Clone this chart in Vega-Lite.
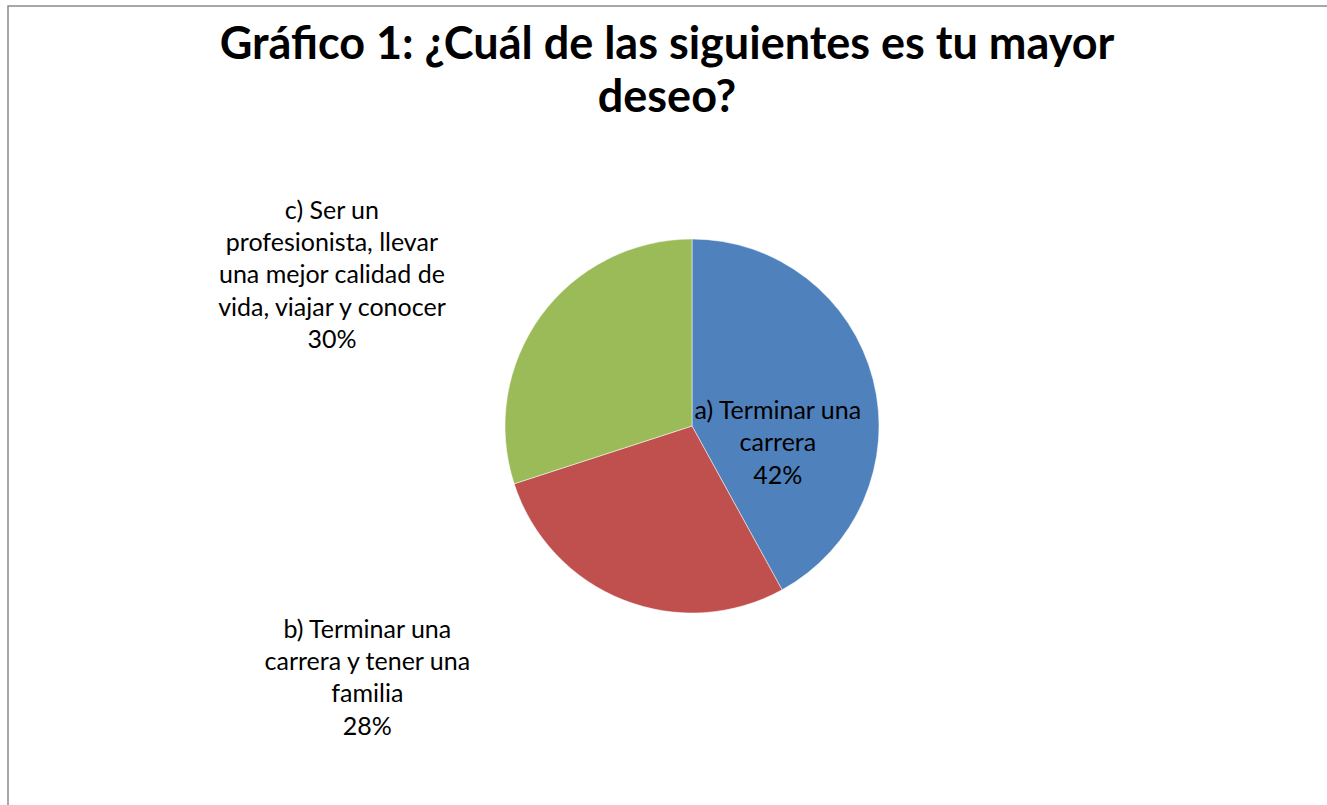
{
  "$schema": "https://vega.github.io/schema/vega-lite/v6.json",
  "autosize": {"type": "none"},
  "padding": {"left": 8, "top": 6, "right": 0, "bottom": 0},
  "width": 1368,
  "height": 840,
  "background": "#ffffff",
  "view": {"stroke": "#8a8a8a", "strokeWidth": 1.5, "fill": "#ffffff"},
  "config": {
    "view": {"stroke": "#8a8a8a", "strokeWidth": 1.5, "fill": "#ffffff"},
    "font": "Lato"
  },
  "title": {
    "text": ["Gráfico 1: ¿Cuál de las siguientes es tu mayor", "deseo?"],
    "font": "Lato",
    "fontSize": 45,
    "fontWeight": "bold",
    "color": "#000000",
    "lineHeight": 53,
    "anchor": "middle",
    "baseline": "top",
    "offset": -115,
    "dx": -25
  },
  "data": {
    "values": [
      {"opcion": "a) Terminar una carrera", "porcentaje": 42, "etiqueta": "a) Terminar una\ncarrera\n42%"},
      {"opcion": "b) Terminar una carrera y tener una familia", "porcentaje": 28, "etiqueta": "b) Terminar una\ncarrera y tener una\nfamilia\n28%"},
      {"opcion": "c) Ser un profesionista, llevar una mejor calidad de vida, viajar y conocer", "porcentaje": 30, "etiqueta": "c) Ser un\nprofesionista, llevar\nuna mejor calidad de\nvida, viajar y conocer\n30%"}
    ]
  },
  "encoding": {
    "theta": {"field": "porcentaje", "type": "quantitative", "stack": true},
    "color": {
      "field": "opcion",
      "type": "nominal",
      "scale": {"range": ["#4f81bd", "#c0504d", "#9bbb59"]},
      "legend": null
    }
  },
  "layer": [
    {"mark": {"type": "arc", "outerRadius": 187, "stroke": "#ffffff", "strokeWidth": 0.5}},
    {
      "mark": {"type": "text", "radius": 100, "dx": -11, "dy": 10, "fontSize": 25, "lineBreak": "\n", "lineHeight": 32.3, "align": "center", "baseline": "middle"},
      "encoding": {
        "text": {"condition": {"test": "datum.porcentaje === 42", "field": "etiqueta"}, "value": ""},
        "color": {"value": "#000000"}
      }
    },
    {
      "mark": {"type": "text", "radius": 230, "dx": -240, "dy": -10, "fontSize": 25, "lineBreak": "\n", "lineHeight": 32.3, "align": "center", "baseline": "middle"},
      "encoding": {
        "text": {"condition": {"test": "datum.porcentaje === 28", "field": "etiqueta"}, "value": ""},
        "color": {"value": "#000000"}
      }
    },
    {
      "mark": {"type": "text", "radius": 230, "dx": -174, "dy": -80, "fontSize": 25, "lineBreak": "\n", "lineHeight": 32.3, "align": "center", "baseline": "middle"},
      "encoding": {
        "text": {"condition": {"test": "datum.porcentaje === 30", "field": "etiqueta"}, "value": ""},
        "color": {"value": "#000000"}
      }
    }
  ]
}
